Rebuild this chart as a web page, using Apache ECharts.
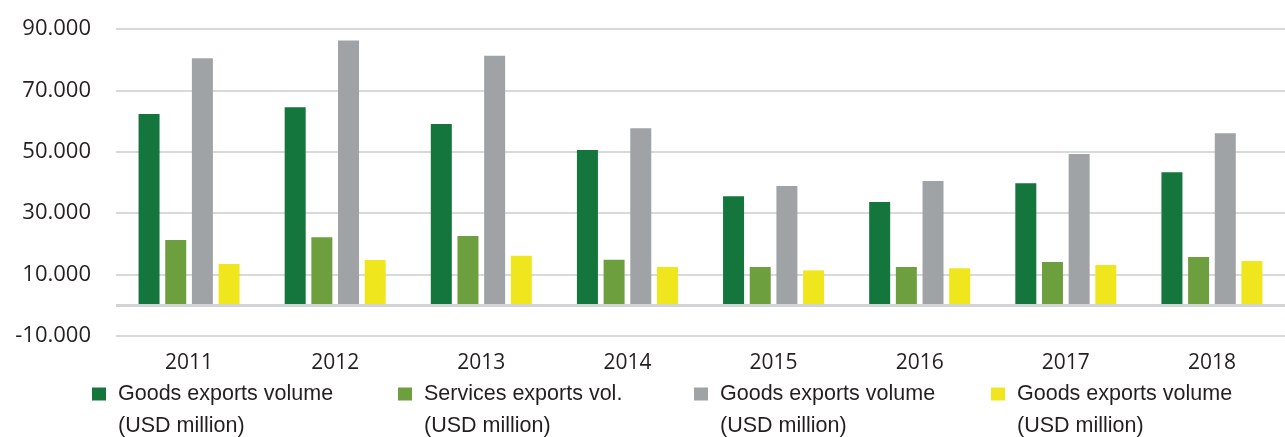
<!DOCTYPE html>
<html>
<head>
<meta charset="utf-8">
<script src="https://cdn.jsdelivr.net/npm/echarts@6/dist/echarts.min.js"></script>
<style>
  html, body { margin: 0; padding: 0; background: #ffffff; }
  #chart { width: 1285px; height: 437px; }
</style>
</head>
<body>
<div id="chart"></div>
<script>
// Export volumes by year, USD million
const years = ['2011', '2012', '2013', '2014', '2015', '2016', '2017', '2018'];
const goodsExports = [62300, 64500, 59000, 50550, 35450, 33600, 39700, 43300];
const servicesExports = [21200, 22100, 22500, 14800, 12400, 12400, 14000, 15650];
const goodsExportsGrey = [80450, 86250, 81300, 57600, 38800, 40450, 49250, 56000];
const goodsExportsYellow = [13400, 14700, 16100, 12400, 11300, 12000, 13050, 14350];

// Legend entries (internal key -> shown label)
const seriesKeys = ['goods', 'services', 'goodsGrey', 'goodsYellow'];
const legendLabels = {
  goods: 'Goods exports volume\n(USD million)',
  services: 'Services exports vol.\n(USD million)',
  goodsGrey: 'Goods exports volume\n(USD million)',
  goodsYellow: 'Goods exports volume\n(USD million)'
};
const seriesColors = ['#14763c', '#6e9f3f', '#a0a3a5', '#f0e61e'];
const seriesData = [goodsExports, servicesExports, goodsExportsGrey, goodsExportsYellow];
const legendLeft = [92, 398, 694, 991];

// "90.000" style thousands separator
function fmtThousands(v) {
  const neg = v < 0;
  const s = String(Math.abs(Math.round(v))).replace(/\B(?=(\d{3})+(?!\d))/g, '.');
  return (neg ? '-' : '') + s;
}

const chart = echarts.init(document.getElementById('chart'), null, { renderer: 'canvas' });

// One legend per entry so each can sit at its own x position.
// A blank first line keeps the icon level with the first text line.
const legends = seriesKeys.map((key, i) => ({
  data: [key],
  left: legendLeft[i],
  top: 346,
  padding: 0,
  itemWidth: 14,
  itemHeight: 13,
  icon: 'rect',
  selectedMode: false,
  formatter: name => ' \n' + legendLabels[name],
  textStyle: {
    fontFamily: '"Liberation Sans", Arial, sans-serif',
    fontSize: 21.5,
    color: '#231f20',
    lineHeight: 32,
    padding: [0, 0, 0, 7]
  }
}));

const series = seriesKeys.map((key, i) => {
  const s = {
    name: key,
    type: 'bar',
    data: seriesData[i],
    barWidth: 21,
    barGap: '27%',
    itemStyle: { color: seriesColors[i] },
    emphasis: { disabled: true }
  };
  if (i === 0) {
    s.markLine = {
      silent: true,
      symbol: 'none',
      label: { show: false },
      lineStyle: { color: '#d2d3d4', width: 3, type: 'solid' },
      data: [{ yAxis: 0 }],
      animation: false
    };
  }
  return s;
});

chart.setOption({
  animation: false,
  backgroundColor: '#ffffff',
  grid: { left: 116, right: 0, top: 29, bottom: 101.3, containLabel: false },
  legend: legends,
  xAxis: {
    type: 'category',
    data: years,
    axisLine: { show: false, onZero: false },
    axisTick: { show: false },
    axisLabel: {
      margin: 17,
      fontFamily: '"Open Sans", sans-serif',
      fontSize: 21,
      color: '#231f20'
    }
  },
  yAxis: {
    type: 'value',
    min: -10000,
    max: 90000,
    interval: 20000,
    axisLine: { show: false },
    axisTick: { show: false },
    splitLine: { lineStyle: { color: '#d9d9d9', width: 2 } },
    axisLabel: {
      margin: 25,
      fontFamily: '"Open Sans", sans-serif',
      fontSize: 22,
      color: '#231f20',
      formatter: fmtThousands
    }
  },
  series: series
});
</script>
</body>
</html>
